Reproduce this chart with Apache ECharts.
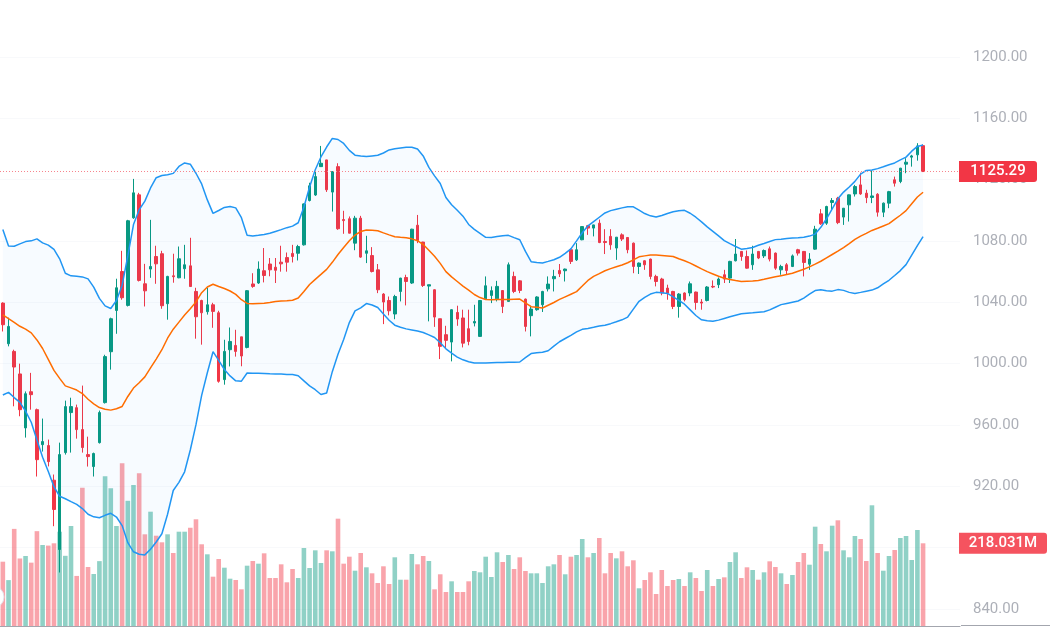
<!DOCTYPE html>
<html>
<head>
<meta charset="utf-8">
<title>Candles with Bollinger Bands</title>
<script src="https://cdn.jsdelivr.net/npm/echarts@6/dist/echarts.min.js"></script>
<style>
  html, body { margin: 0; padding: 0; background: #ffffff; }
  #main { width: 1050px; height: 630px; }
</style>
</head>
<body>
<div id="main"></div>
<script>
// daily candles
var opens = [1039.5,1013.0,1008.0,993.3,958.1,981.7,970.0,947.2,946.6,924.0,
  878.8,942.0,968.1,971.3,957.0,940.7,932.9,948.5,974.6,1007.8,
  1034.7,1060.1,1038.0,1095.1,1110.1,1052.1,1061.7,1069.9,1071.7,1039.1,
  1057.3,1056.0,1061.9,1063.8,1047.1,1041.2,1033.9,1038.4,1033.2,989.6,
  1009.1,1011.9,1017.5,1010.6,1052.0,1052.6,1060.6,1065.0,1062.9,1066.2,
  1069.2,1071.9,1072.0,1077.5,1106.4,1110.0,1128.5,1132.9,1111.9,1128.5,
  1094.0,1094.5,1078.6,1094.9,1072.0,1070.5,1061.2,1045.4,1041.2,1032.4,
  1047.1,1056.2,1052.6,1090.3,1079.3,1050.6,1048.2,1029.3,1018.9,1014.1,
  1033.4,1029.8,1022.8,1026.5,1017.8,1042.3,1044.5,1042.3,1047.7,1040.6,
  1056.9,1054.0,1042.1,1031.3,1035.2,1038.4,1048.8,1055.4,1060.8,1060.6,
  1074.3,1067.7,1080.8,1090.0,1088.4,1091.6,1079.7,1083.0,1075.4,1084.0,
  1082.3,1078.6,1063.4,1067.1,1068.2,1056.9,1055.2,1049.3,1047.1,1037.3,
  1046.1,1046.1,1046.7,1040.2,1041.2,1050.4,1051.5,1058.0,1055.8,1067.1,
  1073.2,1069.9,1064.5,1073.2,1070.3,1074.9,1072.1,1061.2,1064.5,1063.4,
  1074.3,1073.2,1064.9,1074.7,1097.7,1091.6,1105.1,1107.9,1095.6,1103.6,
  1110.7,1116.6,1111.2,1108.4,1110.5,1098.8,1104.7,1119.9,1118.8,1130.1,
  1134.7,1136.2,1142.2];
var highs = [1040.0,1030.0,1009.1,1000.0,981.9,994.0,970.7,964.2,950.5,927.7,
  948.5,975.9,977.8,973.3,985.7,952.4,942.0,969.4,1005.8,1030.0,
  1055.4,1073.6,1093.8,1120.5,1111.4,1065.1,1093.8,1076.9,1073.6,1057.3,
  1071.7,1076.4,1077.5,1082.1,1049.5,1041.7,1049.5,1039.7,1034.5,1015.6,
  1023.6,1022.1,1017.5,1048.0,1059.0,1066.7,1075.4,1068.9,1068.9,1076.9,
  1072.5,1077.5,1077.5,1104.5,1118.0,1125.3,1142.0,1133.0,1125.3,1130.7,
  1099.7,1096.0,1096.4,1096.4,1083.4,1076.0,1065.0,1046.0,1043.8,1044.9,
  1056.0,1058.0,1088.0,1097.0,1079.5,1051.5,1048.5,1029.3,1024.7,1035.5,
  1037.8,1035.2,1035.2,1038.4,1041.5,1056.9,1050.4,1054.0,1048.0,1066.0,
  1060.0,1054.5,1042.5,1037.8,1044.0,1047.5,1056.9,1061.2,1065.0,1062.0,
  1075.0,1078.6,1089.5,1090.5,1090.6,1094.0,1087.7,1087.7,1082.6,1085.0,
  1082.5,1079.0,1066.0,1067.5,1068.5,1058.0,1056.0,1051.5,1047.5,1046.0,
  1046.5,1053.6,1047.0,1042.1,1050.6,1054.3,1056.2,1061.2,1067.1,1081.3,
  1073.5,1073.8,1076.9,1073.5,1074.5,1076.4,1072.5,1064.5,1065.6,1071.2,
  1074.9,1073.5,1072.1,1089.9,1100.8,1103.0,1108.0,1108.8,1101.5,1110.3,
  1116.6,1124.6,1113.4,1126.0,1111.2,1105.1,1112.7,1122.0,1127.7,1134.0,
  1136.2,1143.8,1143.0];
var lows = [1021.0,1011.3,972.2,965.7,951.8,970.0,926.4,942.7,933.0,894.0,
  863.8,940.7,942.0,951.1,942.0,932.9,926.4,947.9,974.0,996.1,
  1019.5,1041.7,1037.3,1094.5,1053.6,1037.3,1056.0,1052.1,1035.8,1028.7,
  1052.8,1055.7,1055.4,1050.0,1016.3,1012.4,1032.0,1023.4,987.6,986.3,
  998.2,1004.6,998.3,1010.0,1049.5,1052.0,1053.0,1057.0,1052.6,1060.0,
  1060.0,1066.0,1067.3,1077.0,1105.8,1109.4,1128.5,1112.0,1099.2,1087.3,
  1084.7,1085.0,1074.0,1069.0,1065.6,1059.5,1046.0,1025.8,1031.5,1029.0,
  1040.6,1038.0,1052.0,1078.6,1050.0,1027.6,1024.0,1003.0,1009.6,1001.5,
  1024.7,1010.6,1012.0,1024.3,1017.5,1041.7,1039.5,1040.6,1033.0,1040.4,
  1046.0,1046.0,1021.0,1017.8,1034.5,1033.7,1047.1,1047.1,1056.5,1053.6,
  1065.0,1067.0,1080.5,1084.0,1083.0,1078.6,1071.5,1074.3,1067.7,1080.0,
  1072.0,1059.0,1058.5,1061.2,1055.0,1050.4,1044.6,1041.7,1035.6,1030.0,
  1040.6,1044.0,1035.2,1035.2,1040.6,1049.3,1049.3,1052.6,1052.6,1066.7,
  1067.1,1062.0,1061.2,1068.2,1068.9,1066.7,1061.2,1058.0,1058.0,1063.0,
  1070.5,1056.9,1061.2,1074.3,1090.5,1090.5,1100.3,1091.0,1090.5,1092.7,
  1109.0,1110.1,1104.7,1104.7,1095.9,1095.6,1101.4,1115.5,1117.7,1124.2,
  1128.5,1132.4,1125.0];
var closes = [1025.4,1024.3,997.8,970.0,980.4,979.8,937.4,949.2,936.1,904.9,
  940.7,972.0,972.0,957.0,945.3,939.4,941.4,968.1,1004.6,1029.3,
  1049.5,1043.0,1093.2,1111.4,1054.3,1047.5,1063.4,1065.1,1037.8,1056.9,
  1056.7,1068.4,1064.5,1050.3,1030.6,1033.2,1038.4,1034.1,988.5,1008.0,
  1014.5,1008.0,1005.0,1047.6,1050.4,1061.7,1057.5,1061.2,1060.9,1065.1,
  1066.2,1069.9,1076.4,1104.2,1116.0,1122.0,1130.7,1113.4,1125.3,1088.0,
  1093.3,1085.1,1094.9,1069.5,1073.6,1060.1,1048.2,1040.2,1034.5,1043.8,
  1055.8,1053.6,1087.7,1080.3,1051.0,1051.5,1030.4,1011.3,1015.2,1035.2,
  1029.1,1013.4,1014.5,1027.5,1041.2,1050.8,1047.6,1050.4,1037.3,1064.5,
  1047.1,1047.8,1024.3,1035.6,1043.5,1047.1,1051.9,1056.9,1058.6,1061.7,
  1066.7,1074.3,1089.4,1088.4,1090.5,1079.0,1079.0,1077.5,1082.5,1081.3,
  1074.3,1063.4,1065.6,1064.5,1056.9,1053.6,1046.1,1046.1,1037.3,1045.4,
  1041.7,1052.1,1039.9,1039.5,1050.0,1050.0,1055.2,1055.2,1066.7,1071.5,
  1069.9,1062.3,1071.5,1068.9,1073.8,1068.2,1062.3,1063.4,1060.8,1070.3,
  1072.1,1066.0,1068.2,1087.7,1091.2,1102.5,1106.4,1092.0,1101.4,1110.1,
  1115.5,1110.7,1108.3,1109.4,1098.8,1104.7,1112.2,1117.7,1127.5,1131.4,
  1135.5,1142.0,1125.29];
// volume, millions
var volumes = [169.5,121.0,256.0,178.0,184.5,167.0,250.0,213.5,212.0,218.0,
  248.5,185.0,263.6,132.0,364.6,155.5,137.0,171.0,395.0,363.0,
  263.6,429.0,330.0,371.7,402.5,241.7,301.3,238.0,220.6,241.7,
  192.4,248.6,248.6,259.0,281.3,215.4,189.0,130.0,176.6,153.7,
  124.7,121.3,96.7,159.0,171.3,164.3,191.6,126.5,126.5,162.6,
  115.2,150.3,126.5,205.6,152.9,199.5,166.0,199.5,196.9,282.9,
  164.3,182.7,145.8,192.4,154.7,138.9,113.3,157.4,110.7,181.1,
  122.0,122.0,189.8,162.6,184.5,171.3,96.7,136.3,89.6,117.8,
  89.6,89.6,117.8,145.0,141.5,182.7,129.2,194.3,168.7,187.2,
  150.3,181.1,145.0,138.9,138.9,113.3,157.4,162.6,187.2,136.3,
  182.7,187.2,229.3,181.1,192.4,232.0,138.9,192.4,178.4,196.9,
  157.4,173.2,99.4,121.3,141.5,84.4,147.6,105.4,121.3,123.9,
  105.4,141.5,126.5,92.3,147.6,105.4,123.9,128.3,168.7,194.3,
  126.5,154.7,147.6,122.0,141.5,170.5,155.5,138.9,110.7,134.4,
  168.7,192.4,161.6,261.8,216.2,196.9,264.4,278.6,199.5,181.1,
  237.2,229.3,171.3,318.2,192.4,145.8,184.5,200.3,232.0,237.2,
  174.0,253.0,218.031];
// Bollinger band lines as drawn
var bbUpper = [1087.5,1076.8,1076.6,1078.1,1079.6,1080.1,1081.4,1078.8,1077.3,1074.5,
  1068.4,1059.0,1057.3,1057.0,1056.6,1055.3,1049.9,1042.6,1037.7,1036.0,
  1041.2,1051.2,1070.3,1090.7,1100.4,1106.0,1114.6,1121.3,1122.7,1123.2,
  1124.1,1128.6,1130.9,1130.1,1124.2,1117.2,1106.8,1098.0,1099.9,1101.9,
  1102.5,1101.6,1095.2,1083.8,1083.3,1083.7,1084.3,1085.0,1086.2,1087.4,
  1088.7,1089.7,1091.9,1102.2,1115.2,1126.5,1134.8,1141.3,1146.9,1146.2,
  1143.6,1139.1,1136.0,1135.5,1135.1,1135.5,1135.9,1137.4,1139.4,1140.2,
  1140.7,1141.2,1141.2,1140.0,1135.5,1128.0,1122.5,1117.5,1108.4,1103.7,
  1100.0,1096.2,1090.8,1087.6,1085.0,1082.4,1082.3,1082.9,1083.5,1083.7,
  1082.2,1080.8,1073.2,1066.5,1066.0,1065.7,1066.7,1067.8,1069.4,1071.9,
  1074.9,1080.1,1085.4,1089.9,1092.7,1095.5,1098.3,1099.8,1100.7,1101.6,
  1102.4,1102.3,1100.1,1097.9,1096.4,1095.6,1096.6,1097.9,1099.1,1099.8,
  1100.0,1098.1,1095.5,1092.5,1089.2,1086.3,1083.3,1080.3,1078.3,1076.4,
  1074.7,1075.1,1075.8,1077.2,1078.4,1079.7,1080.9,1081.2,1081.6,1081.9,
  1082.1,1082.4,1083.2,1084.5,1088.9,1094.5,1100.9,1107.5,1111.9,1115.2,
  1118.9,1123.6,1126.0,1126.3,1127.2,1128.4,1129.7,1130.9,1132.9,1134.7,
  1138.6,1141.7,1142.6];
var bbMiddle = [1031.8,1029.3,1026.9,1024.4,1022.5,1020.1,1015.5,1009.9,1002.8,995.6,
  990.4,985.5,984.2,982.8,980.5,976.8,973.8,971.4,970.3,969.7,
  970.6,972.1,978.6,984.1,987.6,991.4,997.2,1003.0,1009.1,1016.6,
  1022.5,1027.1,1031.7,1035.8,1040.3,1046.3,1050.0,1051.8,1050.3,1049.0,
  1047.4,1045.2,1041.7,1039.3,1039.1,1039.3,1039.4,1039.9,1040.5,1040.9,
  1041.1,1041.4,1042.8,1047.1,1051.6,1055.0,1058.2,1061.5,1066.1,1071.2,
  1075.8,1080.2,1083.9,1086.2,1087.2,1087.0,1086.7,1085.3,1084.0,1082.8,
  1082.4,1082.1,1081.4,1080.2,1077.7,1074.0,1070.1,1065.4,1060.0,1056.6,
  1053.6,1050.6,1048.0,1045.1,1043.1,1041.9,1041.7,1041.8,1041.8,1041.9,
  1042.0,1042.1,1039.6,1037.2,1036.8,1036.3,1038.1,1039.9,1041.9,1043.6,
  1045.3,1047.0,1050.6,1054.3,1056.9,1058.7,1060.6,1062.0,1063.2,1064.4,
  1065.8,1067.7,1069.7,1070.3,1070.8,1070.8,1070.5,1070.2,1069.9,1068.4,
  1067.1,1065.6,1063.7,1061.8,1060.0,1058.5,1057.0,1055.7,1054.9,1054.2,
  1053.6,1053.8,1053.9,1054.2,1055.0,1055.9,1056.7,1057.4,1058.1,1059.0,
  1060.3,1061.6,1063.1,1064.9,1066.8,1069.0,1071.2,1073.4,1075.7,1078.3,
  1081.0,1083.2,1085.0,1086.9,1088.3,1089.8,1091.3,1094.1,1096.8,1099.8,
  1104.3,1108.7,1111.8];
var bbLower = [979.6,981.3,977.9,974.8,969.0,961.8,950.2,939.0,929.7,919.8,
  913.5,911.9,910.0,908.2,905.5,901.8,900.1,899.5,901.1,902.4,
  900.0,894.4,883.3,877.3,875.7,875.3,879.0,883.7,889.1,901.8,
  917.3,922.6,929.5,943.7,960.2,979.3,994.1,1007.8,1002.1,996.2,
  992.0,988.8,988.6,993.9,993.8,993.7,993.6,993.4,993.3,993.2,
  993.0,992.9,992.1,988.8,985.5,983.0,979.9,980.9,994.8,1006.2,
  1015.8,1026.8,1034.4,1036.4,1039.2,1038.3,1036.6,1032.4,1028.3,1025.1,
  1023.8,1022.7,1022.0,1021.3,1020.3,1018.8,1017.1,1013.6,1009.7,1006.9,
  1004.3,1002.5,1001.3,1000.4,1000.5,1000.5,1000.6,1000.7,1000.8,1000.9,
  1001.0,1001.1,1003.9,1006.6,1007.1,1007.4,1008.4,1011.4,1014.3,1016.4,
  1018.5,1020.7,1022.4,1023.0,1023.7,1024.5,1025.1,1026.1,1027.3,1028.6,
  1030.4,1035.6,1040.7,1043.3,1045.4,1046.5,1046.3,1045.8,1043.6,1041.3,
  1038.8,1035.1,1031.4,1028.6,1028.0,1027.6,1028.4,1029.5,1030.6,1031.6,
  1032.6,1032.9,1033.2,1033.6,1033.9,1035.1,1036.8,1038.5,1039.3,1040.1,
  1040.9,1042.8,1045.3,1047.7,1048.2,1047.5,1047.3,1048.3,1047.8,1046.5,
  1045.8,1046.5,1047.3,1048.0,1049.5,1052.0,1054.4,1057.5,1060.7,1064.6,
  1070.8,1077.0,1082.9];

var UP = '#089981', DOWN = '#f23645';
var UP_VOL = 'rgba(8,153,129,0.45)', DOWN_VOL = 'rgba(242,54,69,0.45)';
var SLOTS = 169;          // a few empty slots keep space right of the last bar
var LABEL_FONT = 'Roboto';

var categories = [];
for (var i = 0; i < SLOTS; i++) categories.push('#' + (i + 1));

var candleData = opens.map(function(o, i){ return [o, closes[i], lows[i], highs[i]]; });
var volData = volumes.map(function(v, i){
  return { value: v, itemStyle: { color: closes[i] >= opens[i] ? UP_VOL : DOWN_VOL } };
});
var bandSpan = bbUpper.map(function(u, i){ return +(u - bbLower[i]).toFixed(2); });

var lastClose = closes[closes.length - 1];
var lastVol = volumes[volumes.length - 1];

var myChart = echarts.init(document.getElementById('main'));

var option = {
  animation: false,
  backgroundColor: '#ffffff',
  grid: [
    // the price pane runs past the canvas edges so that 1200 sits at y=57 and 840 at y=609
    { left: 0, width: 960, top: -4.33, height: 674.67, outerBoundsMode: 'none', containLabel: false },
    { left: 0, width: 960, bottom: 4, height: 200, outerBoundsMode: 'none', containLabel: false }
  ],
  xAxis: [
    { type: 'category', gridIndex: 0, data: categories, boundaryGap: true, show: false },
    { type: 'category', gridIndex: 1, data: categories, boundaryGap: true,
      axisLine: { show: true, lineStyle: { color: '#a3a6ae', width: 1 } },
      axisTick: { show: false }, axisLabel: { show: false }, splitLine: { show: false } }
  ],
  yAxis: [
    { type: 'value', gridIndex: 0, position: 'right', min: 800, max: 1240, interval: 40,
      axisLine: { show: false }, axisTick: { show: false },
      axisLabel: { margin: 13, color: '#adb0b8', fontSize: 15, fontFamily: LABEL_FONT,
        showMaxLabel: true, hideOverlap: false,
        formatter: function(v){ return v.toFixed(2); } },
      splitLine: { show: true, lineStyle: { color: '#f8f9fb', width: 1 } } },
    { type: 'value', gridIndex: 1, min: 0, max: 527.2, show: false }
  ],
  series: [
    { name: 'bbBase', type: 'line', xAxisIndex: 0, yAxisIndex: 0, stack: 'band',
      data: bbLower, symbol: 'none', lineStyle: { opacity: 0 }, silent: true },
    { name: 'bbFill', type: 'line', xAxisIndex: 0, yAxisIndex: 0, stack: 'band',
      data: bandSpan, symbol: 'none', lineStyle: { opacity: 0 }, silent: true,
      areaStyle: { color: 'rgba(33,150,243,0.05)' } },
    { name: 'Volume', type: 'bar', xAxisIndex: 1, yAxisIndex: 1,
      data: volData, barWidth: 4.6, silent: true },
    { name: 'Upper', type: 'line', xAxisIndex: 0, yAxisIndex: 0, data: bbUpper,
      symbol: 'none', lineStyle: { color: '#2196f3', width: 1.5 }, silent: true },
    { name: 'Lower', type: 'line', xAxisIndex: 0, yAxisIndex: 0, data: bbLower,
      symbol: 'none', lineStyle: { color: '#2196f3', width: 1.5 }, silent: true },
    { name: 'Basis', type: 'line', xAxisIndex: 0, yAxisIndex: 0, data: bbMiddle,
      symbol: 'none', lineStyle: { color: '#ff6d00', width: 1.5 }, silent: true },
    { name: 'Price', type: 'candlestick', xAxisIndex: 0, yAxisIndex: 0,
      data: candleData, barWidth: 3,
      itemStyle: { color: UP, color0: DOWN, borderColor: UP, borderColor0: DOWN, borderWidth: 1 },
      markLine: {
        silent: true, symbol: ['none', 'none'], label: { show: false },
        lineStyle: { color: '#f7848d', type: [1, 2], width: 1, opacity: 1 },
        data: [{ yAxis: lastClose }]
      } }
  ]
};
myChart.setOption(option);

// last price / last volume tags on the price scale
var yPrice = myChart.convertToPixel({ yAxisIndex: 0 }, lastClose);
var yVol = myChart.convertToPixel({ yAxisIndex: 1 }, lastVol);

myChart.setOption({
  graphic: [
    { type: 'line', shape: { x1: 961, y1: 625.5, x2: 1050, y2: 625.5 },
      style: { stroke: '#a3a6ae', lineWidth: 1 }, silent: true },
    { type: 'circle', shape: { cx: -7, cy: 597, r: 11 }, z: 50,
      style: { fill: '#ffffff', stroke: '#dfe2e8', lineWidth: 1 }, silent: true },
    { type: 'rect', shape: { x: 959, y: yPrice - 10.5, width: 78, height: 21, r: [0, 3, 3, 0] },
      style: { fill: DOWN }, silent: true, z: 100 },
    { type: 'text', x: 998, y: yPrice, silent: true, z: 101,
      style: { text: lastClose.toFixed(2), fill: '#ffffff', fontSize: 15, fontWeight: 500,
        fontFamily: LABEL_FONT, align: 'center', verticalAlign: 'middle' } },
    { type: 'rect', shape: { x: 959, y: yVol - 10.5, width: 88, height: 21, r: [0, 3, 3, 0] },
      style: { fill: '#f5535f' }, silent: true, z: 100 },
    { type: 'text', x: 1003, y: yVol, silent: true, z: 101,
      style: { text: lastVol.toFixed(3) + 'M', fill: '#ffffff', fontSize: 15, fontWeight: 500,
        fontFamily: LABEL_FONT, align: 'center', verticalAlign: 'middle' } }
  ]
});
</script>
</body>
</html>
